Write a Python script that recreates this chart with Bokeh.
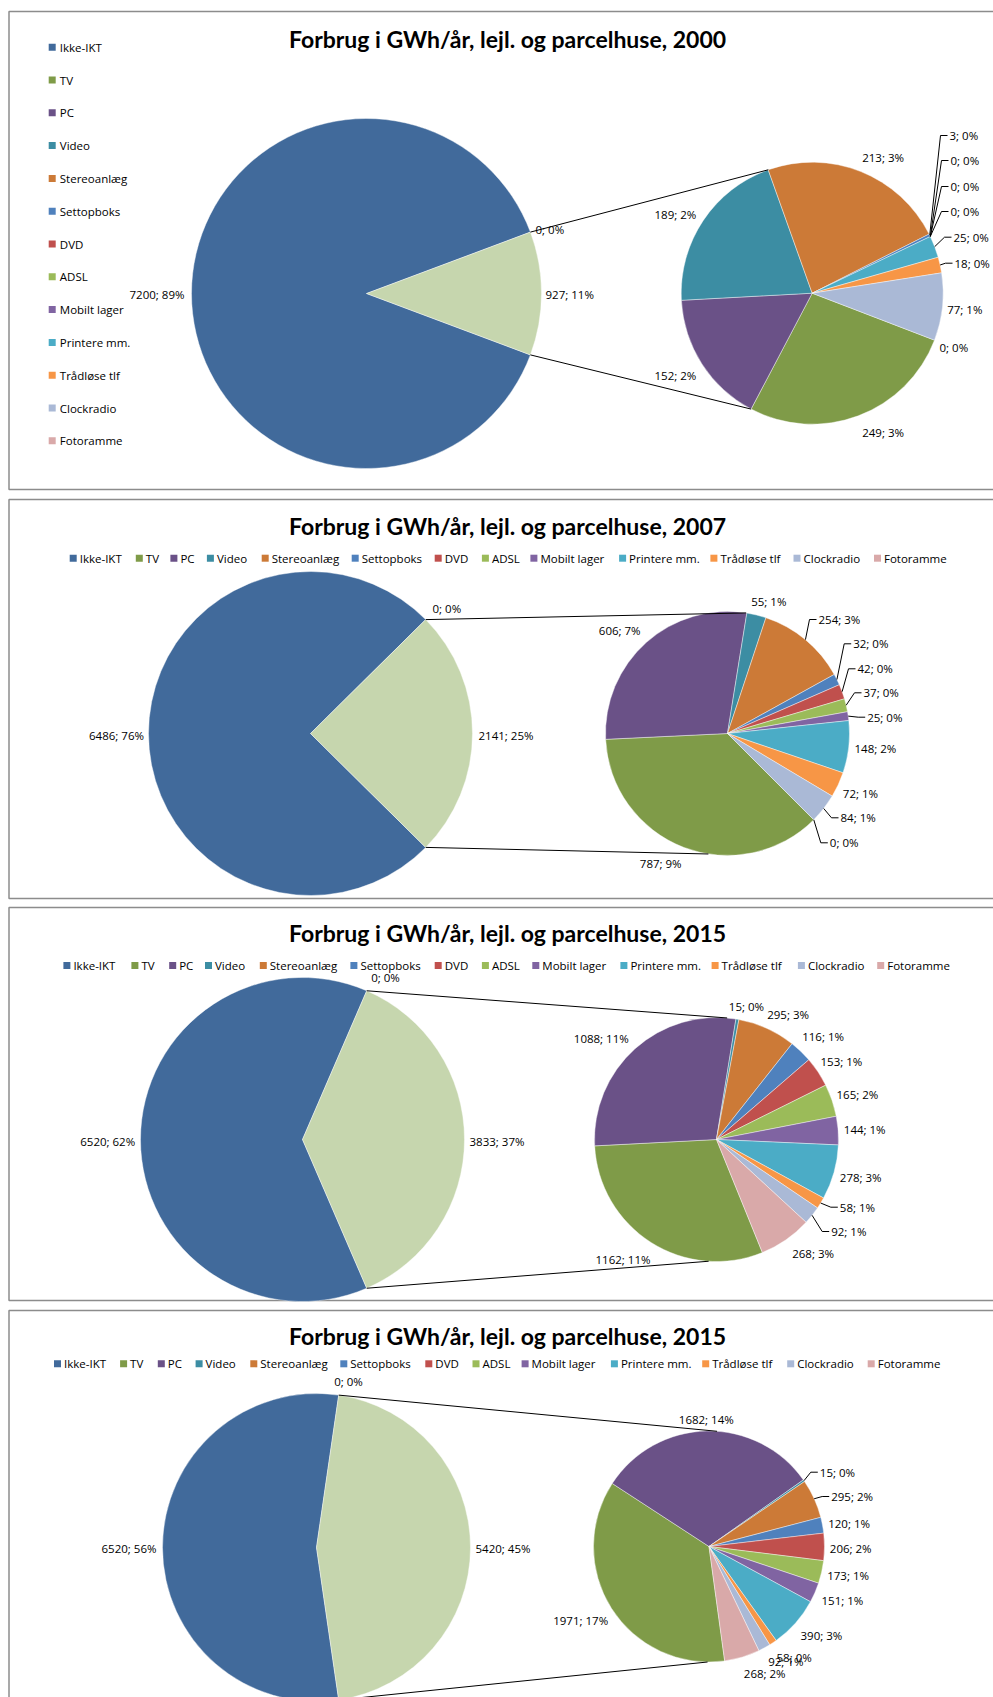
import numpy as np
from bokeh.plotting import figure
from bokeh.models import Range1d
from bokeh.core.properties import value
from bokeh.embed import file_html
from bokeh.resources import INLINE

# ---------------- DATA ----------------
categories = ["Ikke-IKT", "TV", "PC", "Video", "Stereoanlæg", "Settopboks", "DVD",
              "ADSL", "Mobilt lager", "Printere mm.", "Trådløse tlf", "Clockradio", "Fotoramme"]
titles = ["Forbrug i GWh/år, lejl. og parcelhuse, 2000",
          "Forbrug i GWh/år, lejl. og parcelhuse, 2007",
          "Forbrug i GWh/år, lejl. og parcelhuse, 2015",
          "Forbrug i GWh/år, lejl. og parcelhuse, 2015"]

# main pie: [Ikke-IKT, zero point, rest (secondary pie)]
main_2000 = [7200, 0, 927]
main_pct_2000 = [89, 0, 11]
main_2007 = [6486, 0, 2141]
main_pct_2007 = [76, 0, 25]
main_2015a = [6520, 0, 3833]
main_pct_2015a = [62, 0, 37]
main_2015b = [6520, 0, 5420]
main_pct_2015b = [56, 0, 45]

# secondary pie, order: TV, PC, Video, Stereoanlæg, Settopboks, DVD, ADSL,
# Mobilt lager, Printere mm., Trådløse tlf, Clockradio, Fotoramme
sub_2000 = [249, 152, 189, 213, 3, 0, 0, 0, 25, 18, 77, 0]
sub_pct_2000 = [3, 2, 2, 3, 0, 0, 0, 0, 0, 0, 1, 0]
sub_2007 = [787, 606, 55, 254, 32, 42, 37, 25, 148, 72, 84, 0]
sub_pct_2007 = [9, 7, 1, 3, 0, 0, 0, 0, 2, 1, 1, 0]
sub_2015a = [1162, 1088, 15, 295, 116, 153, 165, 144, 278, 58, 92, 268]
sub_pct_2015a = [11, 11, 0, 3, 1, 1, 2, 1, 3, 1, 1, 3]
sub_2015b = [1971, 1682, 15, 295, 120, 206, 173, 151, 390, 58, 92, 268]
sub_pct_2015b = [17, 14, 0, 2, 1, 2, 1, 1, 3, 0, 1, 2]

# ---------------- STYLE ----------------
colors = ["#416A9B", "#7F9B48", "#6A5187", "#3C8DA3", "#CC7A37", "#4F81BD", "#C0504D",
          "#9BBB59", "#8064A2", "#4BACC6", "#F79646", "#AAB9D6", "#D9A9A9"]
rest_color = "#C6D6AE"
LBL_FONT = value("Open Sans")
LBL_SIZE = "11.5px"
LEG_SIZE = "11.5px"

# ---------------- LAYOUT (reference pixel coords) ----------------
panels = [
    dict(main=main_2000, mpct=main_pct_2000, sub=sub_2000, spct=sub_pct_2000, title=titles[0],
         top=11, bottom=489, title_y=38, legend="vertical",
         mc=(366, 293), mr=175, sc=(811.7, 292.7), sr=131, tv_start=21, conn=(250.4, 117.8),
         mlab=[(184, 294, "right"), (535, 229, "left"), (545, 294, "left")],
         slab=[(861.7, 431.7), (654, 375), (654, 214), (861.7, 156.7), (949, 135), (950, 160),
               (950, 186), (950, 211), (953, 236.7), (954, 262.7), (946.7, 309), (939, 346.7)],
         leader=[0, 0, 0, 0, 1, 1, 1, 1, 1, 1, 0, 0]),
    dict(main=main_2007, mpct=main_pct_2007, sub=sub_2007, spct=sub_pct_2007, title=titles[1],
         top=499, bottom=898, title_y=525, legend_y=557.7,
         legend_x=[69.2, 135.3, 169.9, 206.4, 261.2, 351.2, 434.2, 481.4, 529.9, 618.6, 709.9, 793, 873.5],
         mc=(310, 733), mr=162, sc=(727, 733), sr=122, tv_start=45, conn=(278.8, 99),
         mlab=[(143.5, 735, "right"), (432, 608, "left"), (478, 735, "left")],
         slab=[(639.3, 862.7), (598.3, 630), (750.7, 601), (818, 619), (852.7, 643.3), (857, 668.3),
               (863, 692.3), (866.7, 716.7), (854, 748.3), (842.3, 792.7), (840, 817.3), (829.3, 842.3)],
         leader=[0, 0, 0, 1, 1, 1, 1, 1, 0, 0, 1, 1]),
    dict(main=main_2015a, mpct=main_pct_2015a, sub=sub_2015a, spct=sub_pct_2015a, title=titles[2],
         top=907, bottom=1300, title_y=932.3, legend_y=965,
         legend_x=[62.9, 130.9, 168.7, 204.5, 259.3, 349.9, 434.2, 481.4, 531.8, 619.9, 711.1, 797.4, 876.7],
         mc=(302, 1139), mr=162, sc=(716, 1139), sr=122, tv_start=67.9, conn=(275, 93.7),
         mlab=[(134.7, 1141, "right"), (385, 977, "center"), (469, 1141, "left")],
         slab=[(595, 1259), (573.3, 1038.3), (728.3, 1006), (766.7, 1014), (801.7, 1036), (820, 1061),
               (836, 1094), (843.3, 1129), (839.3, 1177.3), (839.3, 1206.7), (830.7, 1231), (791.7, 1252.7)],
         leader=[0, 0, 0, 0, 0, 0, 0, 0, 0, 1, 1, 0]),
    dict(main=main_2015b, mpct=main_pct_2015b, sub=sub_2015b, spct=sub_pct_2015b, title=titles[3],
         top=1310, bottom=1800, title_y=1335, legend_y=1363.3,
         legend_x=[53.5, 119.6, 157.3, 195.1, 249.8, 339.8, 424.8, 472, 521.1, 610.4, 701.7, 786.7, 867.2],
         mc=(316, 1547), mr=154, sc=(708.5, 1546), sr=115.5, tv_start=82.2, conn=(274, 90.7),
         mlab=[(156, 1548, "right"), (348, 1381, "center"), (475, 1548, "left")],
         slab=[(552.7, 1620), (678.3, 1419), (819.3, 1471.7), (830.7, 1496), (827.7, 1523.3), (829.3, 1548.3),
               (826.7, 1575), (821, 1600), (800, 1635), (776, 1656.7), (767.7, 1661), (743.3, 1673.3)],
         leader=[0, 0, 1, 1, 0, 0, 0, 0, 0, 0, 0, 0]),
]

W, H = 993, 1697
p = figure(width=W, height=H, x_range=Range1d(0, W), y_range=Range1d(-H, 0),
           output_backend="svg", toolbar_location=None, min_border=0,
           x_axis_location=None, y_axis_location=None)
p.grid.visible = False
p.outline_line_color = None
p.background_fill_color = "white"


def lab(v, pc):
    return f"{v}; {pc}%"


for P in panels:
    # border
    p.quad(left=[8.5], right=[1200], top=[-P["top"]], bottom=[-P["bottom"]],
           fill_color=None, line_color="#8C8C8C", line_width=1.5)
    # title
    p.text(x=[507], y=[-P["title_y"]], text=[P["title"]], text_font=value("Lato"),
           text_font_style="bold", text_font_size="23px", text_align="center",
           text_baseline="middle", text_color="black")

    # legend
    if P.get("legend") == "vertical":
        ys = [-(46.7 + 32.8 * i) for i in range(len(categories))]
        p.rect(x=[51.7] * len(categories), y=ys, width=7, height=7, fill_color=colors,
               line_color=None)
        p.text(x=[59.3] * len(categories), y=ys, text=categories, text_font=LBL_FONT,
               text_font_size=LEG_SIZE, text_baseline="middle", text_color="black")
    else:
        lx = P["legend_x"]
        ly = -P["legend_y"]
        p.rect(x=[x + 3.5 for x in lx], y=[ly] * len(lx), width=7, height=7,
               fill_color=colors, line_color=None)
        p.text(x=[x + 10 for x in lx], y=[ly] * len(lx), text=categories, text_font=LBL_FONT,
               text_font_size=LEG_SIZE, text_baseline="middle", text_color="black")

    # main pie
    mv = P["main"]
    tot = sum(mv)
    half = mv[2] / tot * 360 / 2
    cx, cy = P["mc"][0], -P["mc"][1]
    r = P["mr"]
    p.wedge(x=[cx, cx], y=[cy, cy], radius=r,
            start_angle=np.radians([half, -half]).tolist(),
            end_angle=np.radians([360 - half, half]).tolist(),
            direction="anticlock", fill_color=[colors[0], rest_color],
            line_color="white", line_width=0.6, line_alpha=0.7)
    for (lx_, ly_, al), v, pc in zip(P["mlab"], mv, P["mpct"]):
        p.text(x=[lx_], y=[-ly_], text=[lab(v, pc)], text_font=LBL_FONT,
               text_font_size=LBL_SIZE, text_align=al, text_baseline="middle",
               text_color="black")

    # secondary pie
    sv = np.array(P["sub"], dtype=float)
    spans = sv / sv.sum() * 360
    ends = -P["tv_start"] - np.concatenate([[0], np.cumsum(spans)[:-1]])
    starts = ends - spans
    mids = (starts + ends) / 2
    sx, sy = P["sc"][0], -P["sc"][1]
    sr = P["sr"]
    keep = sv > 0  # zero-size wedges would render as full circles
    p.wedge(x=[sx] * int(keep.sum()), y=[sy] * int(keep.sum()), radius=sr,
            start_angle=np.radians(starts[keep]).tolist(),
            end_angle=np.radians(ends[keep]).tolist(),
            direction="anticlock",
            fill_color=[c for c, k in zip(colors[1:], keep) if k],
            line_color="white", line_width=0.6, line_alpha=0.7)

    # connector lines
    up, lo = P["conn"]
    xs_c = [[cx + r * np.cos(np.radians(half)), sx + sr * np.cos(np.radians(-up))],
            [cx + r * np.cos(np.radians(-half)), sx + sr * np.cos(np.radians(-lo))]]
    ys_c = [[cy + r * np.sin(np.radians(half)), sy + sr * np.sin(np.radians(-up))],
            [cy + r * np.sin(np.radians(-half)), sy + sr * np.sin(np.radians(-lo))]]
    p.multi_line(xs=xs_c, ys=ys_c, line_color="black", line_width=1)

    # labels + leaders
    lxs, lys = [], []
    for i, ((tx, ty), v, pc) in enumerate(zip(P["slab"], P["sub"], P["spct"])):
        p.text(x=[tx], y=[-ty], text=[lab(v, pc)], text_font=LBL_FONT,
               text_font_size=LBL_SIZE, text_align="left", text_baseline="middle",
               text_color="black")
        if P["leader"][i]:
            ex = sx + sr * np.cos(np.radians(mids[i]))
            ey = sy + sr * np.sin(np.radians(mids[i]))
            lxs.append([ex, tx - 9, tx - 2])
            lys.append([ey, -ty, -ty])
    if lxs:
        p.multi_line(xs=lxs, ys=lys, line_color="black", line_width=1)

open("out.html", "w").write(file_html(p, INLINE))
